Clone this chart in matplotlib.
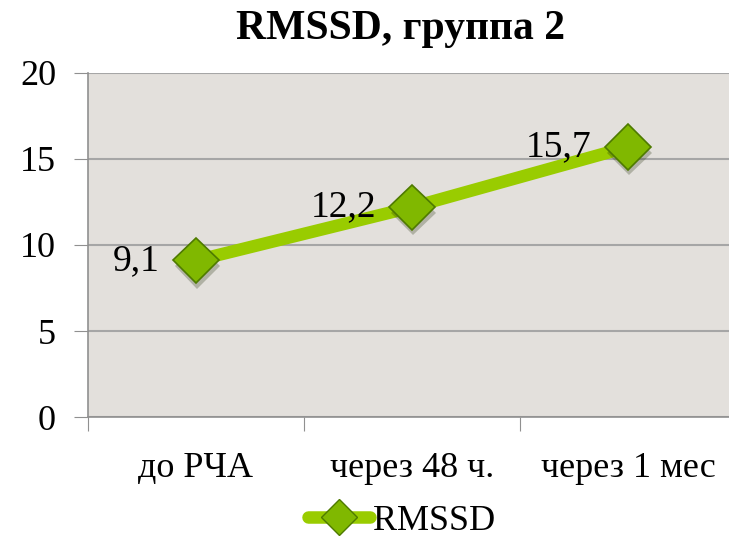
import matplotlib
matplotlib.use("Agg")
import matplotlib.pyplot as plt
import matplotlib.patheffects as pe
from matplotlib.lines import Line2D

categories = ["до РЧА", "через 48 ч.", "через 1 мес"]
values = [9.1, 12.2, 15.7]
value_labels = ["9,1", "12,2", "15,7"]
series_name = "RMSSD"
yticks = [0, 5, 10, 15, 20]

plt.rcParams['font.family'] = ['Liberation Serif', 'DejaVu Serif']

fig = plt.figure(figsize=(7.29, 5.41), dpi=100)
ax = fig.add_axes([88/729, 1-417/541, 648/729, 344/541])
ax.set_facecolor("#E3E0DC")

x = list(range(len(categories)))
shadow = [pe.SimplePatchShadow(offset=(1, -4), alpha=0.25, rho=0.2), pe.Normal()]
ax.plot(x, values, color="#99CC00", lw=9, solid_capstyle="butt", zorder=3)
ax.plot(x, values, ls="none", marker="D", markersize=23, markerfacecolor="#80B800",
        markeredgecolor="#4E7A00", markeredgewidth=1.2, zorder=4,
        path_effects=shadow)
for xi, v, lab in zip(x, values, value_labels):
    ax.annotate(lab, (xi, v), xytext=(-26, 0), textcoords="offset points",
                ha="right", va="center", fontsize=27, zorder=5)

ax.set_xlim(-0.5, 2.5)
ax.set_ylim(0, 20)
ax.set_yticks(yticks)
ax.set_yticklabels([str(t) for t in yticks], fontsize=26)
ax.set_xticks([-0.5, 0.5, 1.5, 2.5])
ax.set_xticklabels([])
ax.set_xticks(x, minor=True)
ax.set_xticklabels(categories, minor=True, fontsize=26)
ax.tick_params(axis="x", which="minor", length=0, pad=25)
ax.tick_params(axis="x", which="major", length=10, color="#909090", direction="out")
ax.tick_params(axis="y", length=10, color="#909090", pad=13)
ax.grid(axis="y", color="#A6A6A6", lw=1.5)
ax.set_axisbelow(True)
for s in ["top", "right"]:
    ax.spines[s].set_visible(False)
ax.spines["left"].set_color("#909090")
ax.spines["bottom"].set_color("#909090")
ax.spines["left"].set_linewidth(1.2)
ax.spines["bottom"].set_linewidth(1.2)

fig.text(400/729, 1-29/541, "RMSSD, группа 2", ha="center", va="center",
         fontsize=30, fontweight="bold")

h = Line2D([], [], color="#99CC00", lw=9, solid_capstyle="round", marker="D",
           markersize=18, markerfacecolor="#80B800", markeredgecolor="#4E7A00")
fig.legend([h], [series_name], loc="center", bbox_to_anchor=(402/729, 1-521/541),
           frameon=False, fontsize=26, handlelength=1.7, handletextpad=0.1,
           borderpad=0)

fig.savefig("out.png", dpi=100)
